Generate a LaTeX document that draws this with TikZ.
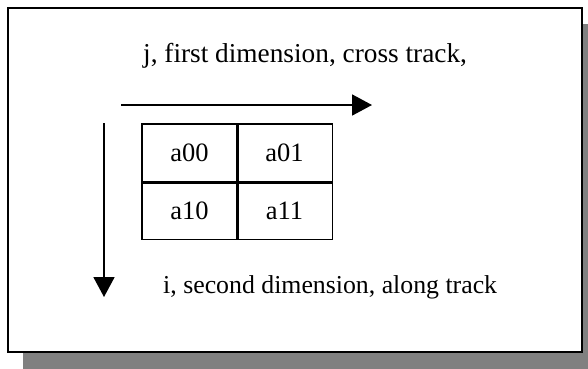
\documentclass[tikz,border=0pt]{standalone}
\usepackage{fontspec}
\setmainfont{Liberation Serif}
\usetikzlibrary{arrows.meta}
\begin{document}
\begin{tikzpicture}[x=1pt,y=-1pt,
  lbl/.style={inner sep=0pt,anchor=base west,font=\fontsize{27.3}{30}\selectfont},
  lblb/.style={lbl,font=\fontsize{25.8}{30}\selectfont},
  celltxt/.style={inner sep=0pt,minimum width=95pt,minimum height=58pt,font=\fontsize{26.5}{30}\selectfont},
  arr/.style={line width=1.8pt,-{Triangle[length=20pt,width=21pt]}}]
\useasboundingbox (0,0) rectangle (588,368);
% shadow and frame
\fill[fill={rgb,255:red,128;green,128;blue,128}] (23,24) rectangle (600,380);
\draw[line width=2.6pt,fill=white] (8,8) rectangle (582,352);
% texts
\node[lbl] (jlab) at (143,62) {j, first dimension, cross track,};
\node[lblb] (ilab) at (163,293) {i, second dimension, along track};
% arrows
\coordinate (hs) at (121,105);
\coordinate (he) at (372,105);
\coordinate (vs) at (104,123);
\coordinate (ve) at (104,297);
\draw[arr] (hs) -- (he);
\draw[arr] (vs) -- (ve);
% cells
\node[celltxt] (c00) at (189.5,153) {a00};
\node[celltxt] (c01) at (284.5,153) {a01};
\node[celltxt] (c10) at (189.5,210.5) {a10};
\node[celltxt] (c11) at (284.5,210.5) {a11};
\draw[line width=1.4pt] (c00.north west) rectangle (c11.south east);
\draw[line width=3pt] (c00.north east) -- (c11.south west -| c00.north east);
\draw[line width=3pt] (c00.south west) -- (c00.south west -| c11.south east);
\end{tikzpicture}
\end{document}
